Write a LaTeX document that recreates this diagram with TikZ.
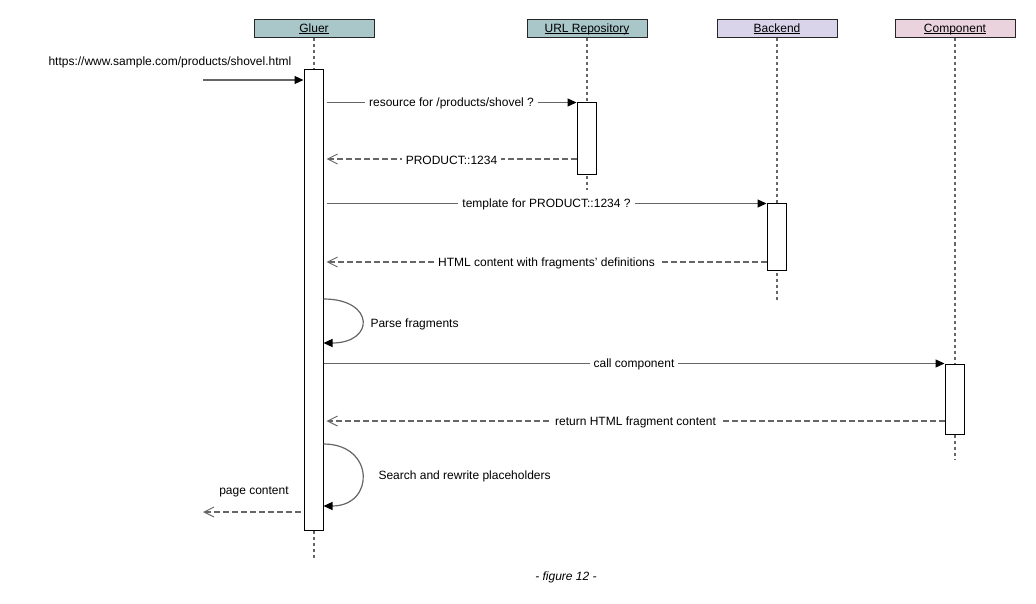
\documentclass[tikz,border=0pt]{standalone}
\usepackage{fontspec}
\setmainfont{Liberation Sans}
\usepackage{tikz}
\usetikzlibrary{arrows.meta,positioning}
\definecolor{tealhead}{HTML}{A9C6C9}
\definecolor{lilachead}{HTML}{DAD4EA}
\definecolor{pinkhead}{HTML}{EBD3DD}
\definecolor{linegray}{HTML}{666666}
\newcommand\headtext[1]{\underline{\smash{#1}\vphantom{A}}}

\begin{document}
\begin{tikzpicture}[
 x=1pt,y=-1pt,
 font=\fontsize{12}{14}\selectfont,
 head/.style={draw=black!85,line width=1pt,minimum width=120pt,minimum height=18pt,inner sep=0pt},
 act/.style={draw=black,line width=1pt,fill=white,minimum width=19pt,inner sep=0pt},
 life/.style={draw=linegray,line width=1.3pt,dash pattern=on 3pt off 3pt},
 msg/.style={draw=linegray,line width=1.2pt,-{Triangle[length=9pt,width=8pt,fill=black,color=black]}},
 ret/.style={draw=linegray,line width=1.2pt,dash pattern=on 6pt off 3pt,-{Straight Barb[length=10pt,width=10pt,line width=1pt]}},
 lbl/.style={fill=white,inner xsep=4pt,inner ysep=1.5pt,yshift=-1pt}
]
\useasboundingbox (0,0) rectangle (1036,604);
% participants
\node[head,fill=tealhead] (gluer) at (314,29) {\headtext{Gluer}};
\node[head,fill=tealhead] (urlrepo) at (587,29) {\headtext{URL Repository}};
\node[head,fill=lilachead] (backend) at (777,29) {\headtext{Backend}};
\node[head,fill=pinkhead] (comp) at (955,29) {\headtext{Component}};
% lifelines
\coordinate (gluerEnd) at (314,560);
\coordinate (urlEnd) at (587,190);
\coordinate (backEnd) at (777,300);
\coordinate (compEnd) at (955,460);
\draw[life] (gluer.south) -- (gluerEnd);
\draw[life] (urlrepo.south) -- (urlEnd);
\draw[life] (backend.south) -- (backEnd);
\draw[life] (comp.south) -- (compEnd);
% activations
\node[act,minimum height=460pt] (gluerAct) at (313.5,300) {};
\node[act,minimum height=72pt] (urlAct) at (586.5,139) {};
\node[act,minimum height=66pt] (backAct) at (776.5,237) {};
\node[act,minimum height=70pt] (compAct) at (954.5,399) {};
% incoming request
\coordinate (client) at (203,80);
\node[anchor=west] (urlLbl) at (45,62) {https://www.sample.com/products/shovel.html};
\draw[msg] (client) -- (gluerAct.west |- client);
% url repository
\draw[msg] ([xshift=3pt]gluerAct.east |- urlAct.north) -- (urlAct.north west)
 node[midway,lbl] {resource for /products/shovel ?};
\draw[ret] (urlAct.west |- 0,159) -- ([xshift=3pt]gluerAct.east |- 0,159)
 node[midway,lbl] {PRODUCT::1234};
% backend
\draw[msg] ([xshift=3pt]gluerAct.east |- backAct.north) -- (backAct.north west)
 node[midway,lbl] {template for PRODUCT::1234 ?};
\draw[ret] (backAct.west |- 0,262) -- ([xshift=3pt]gluerAct.east |- 0,262)
 node[midway,lbl] {HTML content with fragments' definitions};
% parse
\coordinate (parseA) at (gluerAct.east |- 0,299);
\coordinate (parseB) at (gluerAct.east |- 0,343);
\draw[msg] (parseA) .. controls (375,299) and (375,343) .. (parseB);
\node[anchor=west] (parseLbl) at (367,324) {Parse fragments};
% component
\draw[msg] (gluerAct.east |- compAct.north) -- (compAct.north west)
 node[midway,lbl] {call component};
\draw[ret] (compAct.west |- 0,421) -- ([xshift=3pt]gluerAct.east |- 0,421)
 node[midway,lbl] {return HTML fragment content};
% rewrite
\coordinate (rewriteA) at (gluerAct.east |- 0,444);
\coordinate (rewriteB) at (gluerAct.east |- 0,506);
\draw[msg] (rewriteA) .. controls (375,444) and (375,506) .. (rewriteB);
\node[anchor=west] (rewriteLbl) at (375,476) {Search and rewrite placeholders};
% response
\coordinate (browser) at (203,512);
\draw[ret] ([xshift=-3pt]gluerAct.west |- browser) -- (browser);
\node (pageLbl) at (254,492) {page content};
% caption
\node[font=\fontsize{12}{14}\selectfont\itshape] (caption) at (566,577) {- figure 12 -};
\end{tikzpicture}
\end{document}
